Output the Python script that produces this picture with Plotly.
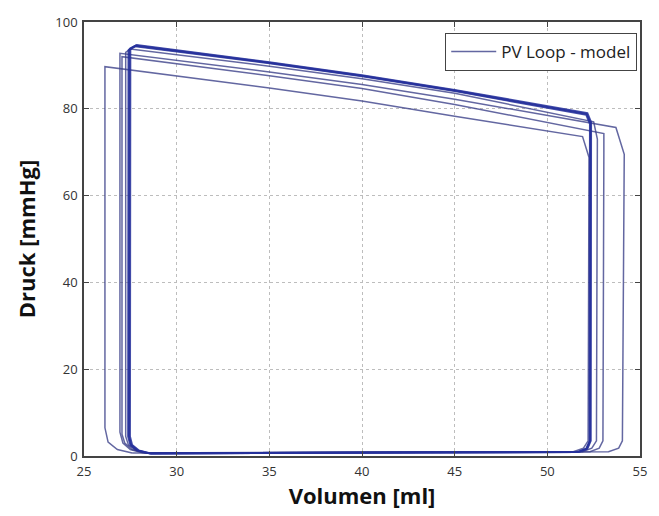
import plotly.graph_objects as go

# Volume [ml] and pressure [mmHg] for each simulated beat
vol_a = [27.6, 40.0, 51.4, 51.95, 52.2, 52.25, 51.9, 45.0, 40.0, 35.0, 30.0, 26.13, 26.13, 26.3, 26.8, 27.6]
prs_a = [0.7, 0.8, 1.0, 1.8, 3.5, 68.8, 73.6, 78.3, 81.8, 84.8, 87.6, 89.7, 6.5, 3.2, 1.5, 0.7]

vol_b = [28.2, 40.0, 53.3, 53.85, 54.05, 54.15, 53.7, 45.0, 40.0, 35.0, 30.0, 26.94, 26.94, 27.1, 27.5, 28.2]
prs_b = [0.7, 0.8, 1.0, 1.8, 3.5, 69.5, 75.7, 82.2, 85.6, 88.5, 91.2, 92.8, 5.5, 3.0, 1.5, 0.7]

vol_c = [28.3, 40.0, 52.3, 52.8, 53.0, 53.05, 53.05, 45.0, 40.0, 35.0, 30.0, 27.05, 27.05, 27.2, 27.6, 28.3]
prs_c = [0.7, 0.8, 1.0, 1.8, 3.5, 70.0, 74.3, 81.0, 84.7, 87.6, 90.4, 92.0, 5.0, 3.0, 1.5, 0.7]

vol_d = [28.4, 40.0, 51.9, 52.4, 52.65, 52.7, 52.5, 45.0, 40.0, 35.0, 30.0, 27.5, 27.25, 27.25, 27.4, 27.8, 28.4]
prs_d = [0.7, 0.8, 1.0, 1.8, 3.5, 73.0, 77.0, 83.6, 86.9, 89.8, 92.4, 93.8, 93.0, 4.5, 2.5, 1.3, 0.7]

vol_e1 = [28.5, 40.0, 51.6, 52.1, 52.28, 52.3, 52.1, 45.0, 40.0, 35.0, 30.0, 27.75, 27.4, 27.38, 27.5, 27.85, 28.5]
prs_e1 = [0.6, 0.7, 0.9, 1.7, 3.5, 76.5, 78.6, 84.1, 87.5, 90.5, 93.2, 94.4, 93.5, 4.5, 2.5, 1.3, 0.6]

vol_e2 = [28.55, 40.0, 51.65, 52.13, 52.31, 52.33, 52.13, 45.0, 40.0, 35.0, 30.0, 27.8, 27.45, 27.43, 27.55, 27.9, 28.55]
prs_e2 = [0.6, 0.7, 0.9, 1.7, 3.5, 76.7, 78.8, 84.2, 87.6, 90.6, 93.3, 94.55, 93.7, 4.5, 2.5, 1.3, 0.6]

vol_e3 = [28.6, 40.0, 51.7, 52.16, 52.34, 52.36, 52.16, 45.0, 40.0, 35.0, 30.0, 27.85, 27.5, 27.48, 27.6, 27.95, 28.6]
prs_e3 = [0.6, 0.7, 0.9, 1.7, 3.5, 76.9, 79.0, 84.35, 87.75, 90.75, 93.45, 94.7, 93.9, 4.5, 2.5, 1.3, 0.6]

thin_loops = [(vol_a, prs_a), (vol_b, prs_b), (vol_c, prs_c), (vol_d, prs_d)]
steady_loops = [(vol_e1, prs_e1), (vol_e2, prs_e2), (vol_e3, prs_e3)]

x_ticks = [25, 30, 35, 40, 45, 50, 55]
y_ticks = [0, 20, 40, 60, 80, 100]

thin_color = "rgba(55,60,135,0.78)"
steady_color = "rgba(38,48,155,0.85)"

fig = go.Figure()
first = True
for v, p in thin_loops:
    fig.add_trace(go.Scatter(
        x=v, y=p, mode="lines",
        line=dict(color=thin_color, width=1.5),
        name="PV Loop - model", legendgroup="pv",
        showlegend=first,
    ))
    first = False
for v, p in steady_loops:
    fig.add_trace(go.Scatter(
        x=v, y=p, mode="lines",
        line=dict(color=steady_color, width=2),
        name="PV Loop - model", legendgroup="pv",
        showlegend=False,
    ))

axis_common = dict(
    showline=True, linecolor="#444", linewidth=1.5, mirror="ticks",
    ticks="inside", ticklen=5, tickcolor="#444",
    showgrid=True, gridcolor="#bdbdbd", griddash="dot", gridwidth=1,
    zeroline=False,
    tickfont=dict(family="Open Sans", size=13, color="#333"),
)

fig.update_layout(
    width=659, height=516,
    margin=dict(l=84, r=18, t=22, b=58),
    paper_bgcolor="white", plot_bgcolor="white",
    font=dict(family="Open Sans"),
    xaxis=dict(range=[25, 55], tickvals=x_ticks, ticklabelstandoff=3,
               title=dict(text="Volumen [ml]", standoff=8,
                          font=dict(family="Open Sans", size=22, color="#111", weight="bold")),
               **axis_common),
    yaxis=dict(range=[0, 100], tickvals=y_ticks, ticklabelstandoff=2,
               title=dict(text="Druck [mmHg]", standoff=14,
                          font=dict(family="Open Sans", size=22, color="#111", weight="bold")),
               **axis_common),
    legend=dict(x=0.995, y=0.975, xanchor="right", yanchor="top",
                bgcolor="white", bordercolor="#444", borderwidth=1,
                itemwidth=45,
                font=dict(family="Open Sans", size=17, color="#222")),
)

fig.write_html("out.html")
